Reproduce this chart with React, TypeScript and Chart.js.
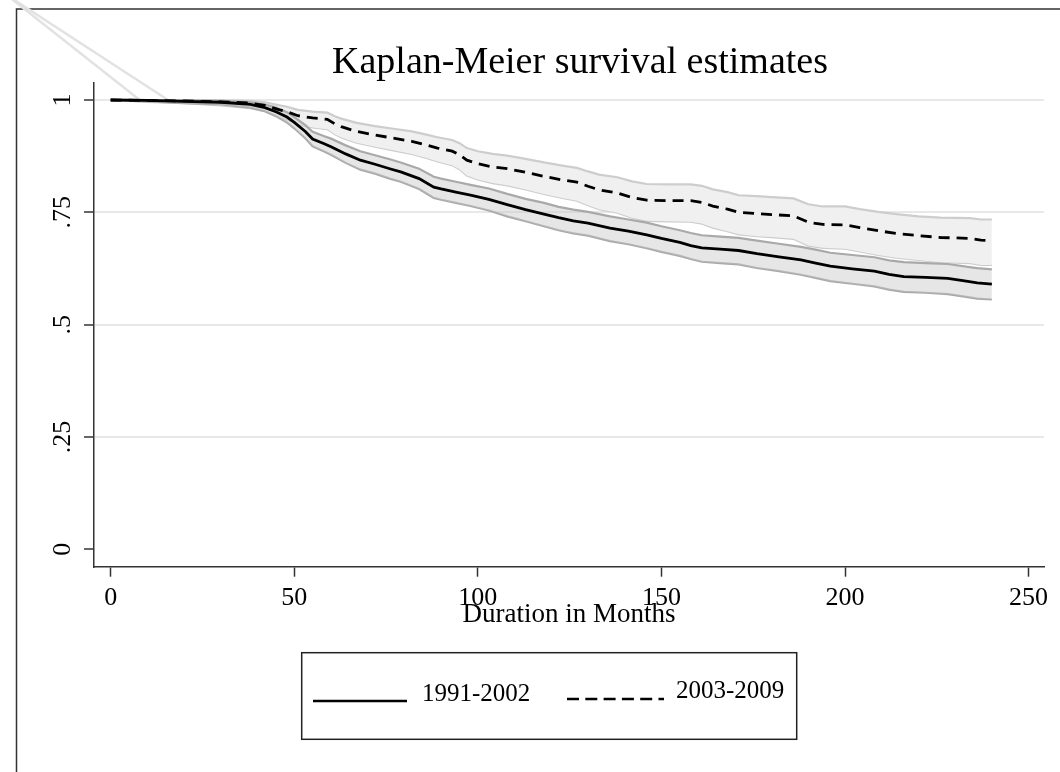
import { useEffect, useRef } from "react";
import { Chart, registerables } from "chart.js";

Chart.register(...registerables);

// Kaplan-Meier estimates, 1991-2002 cohort
const monthsEarly = [0, 10, 20, 30, 38, 42, 45, 48, 50, 53, 55, 58, 60, 64, 68, 72, 76, 79, 84, 88, 90, 94, 98, 103, 108, 113, 118, 122, 126, 130, 136, 141, 146, 150, 155, 158, 161, 166, 171, 176, 182, 188, 192, 196, 202, 208, 212, 216, 222, 228, 233, 236, 240];
const survEarly = [1.0, 0.999, 0.997, 0.995, 0.99, 0.983, 0.974, 0.962, 0.95, 0.93, 0.913, 0.903, 0.896, 0.88, 0.866, 0.857, 0.847, 0.84, 0.825, 0.806, 0.802, 0.795, 0.788, 0.779, 0.767, 0.756, 0.746, 0.738, 0.731, 0.726, 0.715, 0.708, 0.7, 0.692, 0.683, 0.676, 0.671, 0.668, 0.665, 0.658, 0.651, 0.644, 0.637, 0.63, 0.624, 0.619, 0.612, 0.607, 0.605, 0.603, 0.597, 0.593, 0.59];
const upperEarly = [1.0, 1.0, 0.999, 0.998, 0.995, 0.99, 0.983, 0.973, 0.962, 0.944, 0.929, 0.92, 0.914, 0.899, 0.886, 0.877, 0.868, 0.861, 0.847, 0.829, 0.825, 0.818, 0.811, 0.803, 0.791, 0.78, 0.771, 0.762, 0.756, 0.751, 0.741, 0.734, 0.727, 0.719, 0.71, 0.704, 0.699, 0.696, 0.693, 0.687, 0.68, 0.673, 0.667, 0.66, 0.655, 0.65, 0.643, 0.639, 0.637, 0.635, 0.629, 0.626, 0.623];
const lowerEarly = [1.0, 0.997, 0.993, 0.99, 0.983, 0.975, 0.964, 0.95, 0.937, 0.915, 0.897, 0.886, 0.878, 0.86, 0.845, 0.836, 0.825, 0.818, 0.802, 0.782, 0.778, 0.771, 0.764, 0.754, 0.741, 0.73, 0.719, 0.71, 0.703, 0.698, 0.686, 0.679, 0.67, 0.662, 0.653, 0.646, 0.64, 0.637, 0.634, 0.626, 0.619, 0.611, 0.604, 0.597, 0.591, 0.585, 0.578, 0.573, 0.571, 0.568, 0.562, 0.558, 0.556];

// Kaplan-Meier estimates, 2003-2009 cohort
const monthsLate = [0, 10, 20, 30, 38, 42, 46, 48, 51, 55, 59, 61, 63, 67, 72, 77, 82, 86, 89, 93, 95, 97, 100, 104, 108, 113, 118, 123, 127, 130, 133, 138, 142, 146, 152, 158, 161, 164, 168, 171, 176, 180, 186, 190, 194, 200, 204, 209, 214, 220, 226, 234, 237, 240];
const survLate = [1.0, 0.999, 0.998, 0.996, 0.993, 0.988, 0.978, 0.974, 0.965, 0.96, 0.957, 0.947, 0.94, 0.93, 0.922, 0.915, 0.908, 0.9, 0.893, 0.886, 0.878, 0.866, 0.858, 0.851, 0.847, 0.839, 0.83, 0.822, 0.817, 0.808, 0.8, 0.793, 0.783, 0.777, 0.776, 0.776, 0.772, 0.764, 0.757, 0.75, 0.747, 0.745, 0.742, 0.728, 0.723, 0.722, 0.716, 0.709, 0.703, 0.698, 0.694, 0.692, 0.688, 0.687];
const upperLate = [1.0, 1.0, 1.0, 0.999, 0.998, 0.995, 0.988, 0.985, 0.978, 0.974, 0.972, 0.964, 0.958, 0.949, 0.942, 0.936, 0.93, 0.923, 0.917, 0.911, 0.904, 0.893, 0.886, 0.88, 0.876, 0.869, 0.861, 0.854, 0.849, 0.841, 0.834, 0.828, 0.819, 0.813, 0.812, 0.812, 0.809, 0.801, 0.795, 0.788, 0.786, 0.784, 0.781, 0.768, 0.763, 0.763, 0.757, 0.751, 0.746, 0.741, 0.738, 0.737, 0.734, 0.734];
const lowerLate = [1.0, 0.996, 0.993, 0.988, 0.982, 0.975, 0.962, 0.957, 0.946, 0.939, 0.935, 0.924, 0.916, 0.905, 0.896, 0.888, 0.88, 0.871, 0.863, 0.855, 0.846, 0.832, 0.823, 0.815, 0.81, 0.801, 0.791, 0.782, 0.776, 0.766, 0.757, 0.749, 0.738, 0.731, 0.73, 0.729, 0.725, 0.716, 0.708, 0.701, 0.697, 0.695, 0.691, 0.676, 0.671, 0.669, 0.663, 0.655, 0.649, 0.644, 0.639, 0.637, 0.633, 0.633];

const seriesLabels = ["1991-2002", "2003-2009"];

// stray band outlines running off the top-left of the plot
const strayFromMonth = -28.4;
const strayFromSurv = 1.234;
const strayToMonths = [7.9, 15.6];
const strayToSurv = [1.0, 1.0];

const xTicks = [0, 50, 100, 150, 200, 250];
const yTicks = [0, 0.25, 0.5, 0.75, 1];
const yTickLabels = ["0", ".25", ".5", ".75", "1"];

const titleText = "Kaplan-Meier survival estimates";
const xTitleText = "Duration in Months";

const SERIF = '"Liberation Serif", "Times New Roman", Times, serif';

const toPoints = (xs: number[], ys: number[]) => xs.map((x, i) => ({ x, y: ys[i] }));

const decorPlugin = {
  id: "decor",
  beforeDraw(chart: Chart) {
    const { ctx } = chart;
    ctx.save();
    // outer graph-region frame
    ctx.strokeStyle = "#333";
    ctx.lineWidth = 1.5;
    ctx.beginPath();
    ctx.moveTo(16.5, 772);
    ctx.lineTo(16.5, 9);
    ctx.lineTo(1060, 9);
    ctx.stroke();
    // title
    ctx.fillStyle = "#000";
    ctx.font = `38px ${SERIF}`;
    ctx.textAlign = "center";
    ctx.textBaseline = "middle";
    ctx.fillText(titleText, 580, 63);
    ctx.restore();
  },
  afterDraw(chart: Chart) {
    const { ctx } = chart;
    const ds = chart.data.datasets as any[];
    ctx.save();
    // legend box
    ctx.strokeStyle = "#222";
    ctx.lineWidth = 1.5;
    ctx.strokeRect(301.7, 652.7, 495, 86.6);
    ctx.lineWidth = 2.6;
    ctx.strokeStyle = "#000";
    // solid key
    ctx.setLineDash([]);
    ctx.beginPath();
    ctx.moveTo(313, 701);
    ctx.lineTo(407, 701);
    ctx.stroke();
    // dashed key
    ctx.setLineDash([12, 6.3]);
    ctx.beginPath();
    ctx.moveTo(567, 699);
    ctx.lineTo(664, 699);
    ctx.stroke();
    ctx.setLineDash([]);
    ctx.fillStyle = "#000";
    ctx.font = `25px ${SERIF}`;
    ctx.textAlign = "left";
    ctx.textBaseline = "middle";
    ctx.fillText(ds[0].label, 422, 694);
    ctx.fillText(ds[1].label, 676, 691);
    ctx.restore();
  },
};

export default function App() {
  const canvasRef = useRef<HTMLCanvasElement | null>(null);

  useEffect(() => {
    if (!canvasRef.current) return;
    Chart.defaults.font.family = SERIF;

    const lineBase = { pointRadius: 0, pointHoverRadius: 0, tension: 0, fill: false };

    const chart = new Chart(canvasRef.current, {
      type: "line",
      data: {
        datasets: [
          {
            ...lineBase,
            label: seriesLabels[0],
            data: toPoints(monthsEarly, survEarly),
            borderColor: "#000",
            borderWidth: 2.8,
            order: 0,
          },
          {
            ...lineBase,
            label: seriesLabels[1],
            data: toPoints(monthsLate, survLate),
            borderColor: "#000",
            borderWidth: 2.8,
            borderDash: [11, 7],
            order: 1,
          },
          {
            ...lineBase,
            label: "upper " + seriesLabels[0],
            data: toPoints(monthsEarly, upperEarly),
            borderColor: "#a9a9a9",
            borderWidth: 2.2,
            fill: "+1",
            backgroundColor: "rgba(200,200,200,0.45)",
            order: 3,
          },
          {
            ...lineBase,
            label: "lower " + seriesLabels[0],
            data: toPoints(monthsEarly, lowerEarly),
            borderColor: "#a9a9a9",
            borderWidth: 2.2,
            order: 3,
          },
          {
            ...lineBase,
            label: "upper " + seriesLabels[1],
            data: toPoints(monthsLate, upperLate),
            borderColor: "#cdcdcd",
            borderWidth: 2.2,
            fill: "+1",
            backgroundColor: "#f0f0f0",
            order: 4,
          },
          {
            ...lineBase,
            label: "lower " + seriesLabels[1],
            data: toPoints(monthsLate, lowerLate),
            borderColor: "#cdcdcd",
            borderWidth: 2.2,
            order: 4,
          },
          ...strayToMonths.map((m, i) => ({
            ...lineBase,
            label: "outline " + (i + 1),
            data: [
              { x: strayFromMonth, y: strayFromSurv },
              { x: m, y: strayToSurv[i] },
            ],
            borderColor: "#e2e2e2",
            borderWidth: 2.5,
            clip: false as any,
            order: 6,
          })),
        ],
      },
      options: {
        animation: false,
        responsive: false,
        devicePixelRatio: 1,
        layout: { padding: { top: 83, right: 16, left: 0, bottom: 140.4 } },
        plugins: {
          legend: { display: false },
          tooltip: { enabled: false },
          title: { display: false },
        },
        scales: {
          x: {
            type: "linear",
            min: -4.55,
            max: 254.2,
            afterBuildTicks: (s: any) => {
              s.ticks = xTicks.map((v) => ({ value: v }));
            },
            afterFit: (s: any) => {
              s.height = 64.9;
            },
            ticks: {
              font: { size: 26 },
              color: "#000",
              padding: 6,
              maxRotation: 0,
              minRotation: 0,
              autoSkip: false,
            },
            grid: {
              drawOnChartArea: false,
              tickColor: "#333",
              tickLength: 10,
              tickWidth: 1.5,
            },
            border: { color: "#333", width: 1.5 },
            title: {
              display: true,
              text: xTitleText,
              font: { size: 27 },
              color: "#000",
              padding: { top: 0, bottom: 0 },
            },
          },
          y: {
            type: "linear",
            min: -0.0387,
            max: 1.0378,
            afterBuildTicks: (s: any) => {
              s.ticks = yTicks.map((v) => ({ value: v }));
            },
            afterCalculateLabelRotation: (s: any) => {
              s.labelRotation = 90;
            },
            afterFit: (s: any) => {
              s.width = 94;
            },
            ticks: {
              font: { size: 26 },
              color: "#000",
              padding: 5,
              crossAlign: "center",
              callback: (_v: any, i: number) => yTickLabels[i],
            },
            grid: {
              color: (c: any) => (c.tick && c.tick.value === 0 ? "rgba(0,0,0,0)" : "#e8e8e8"),
              lineWidth: 2,
              tickColor: "#333",
              tickLength: 10,
              tickWidth: 1.5,
            },
            border: { color: "#333", width: 1.5 },
          },
        },
      },
      plugins: [decorPlugin],
    } as any);

    return () => chart.destroy();
  }, []);

  return (
    <div style={{ position: "absolute", left: 0, top: 0, width: 1060, height: 772, background: "#fff" }}>
      <canvas ref={canvasRef} width={1060} height={772} style={{ display: "block" }} />
    </div>
  );
}
